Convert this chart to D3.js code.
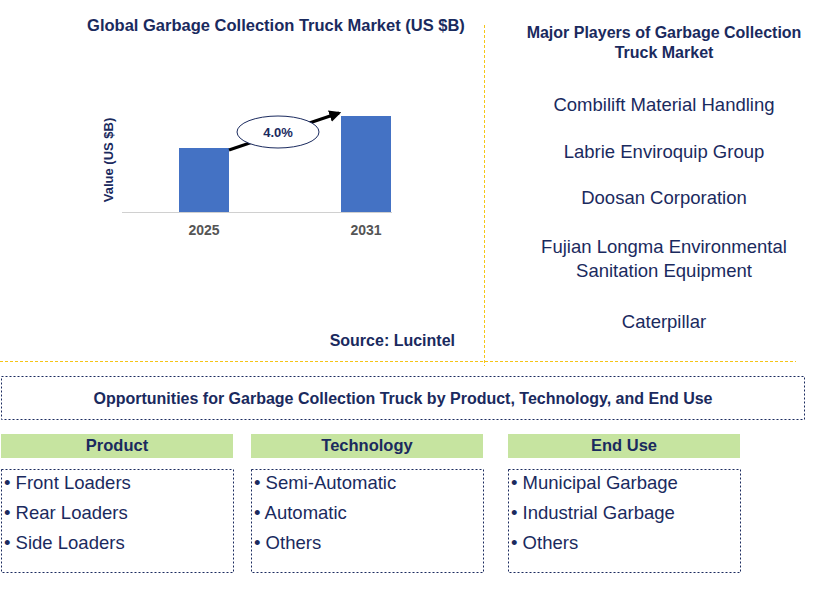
<!DOCTYPE html>
<html><head><meta charset="utf-8">
<script src="https://cdn.jsdelivr.net/npm/d3@7"></script>
<style>body{margin:0;background:#fff}svg{display:block;font-family:Arial,"Liberation Sans",sans-serif}</style>
</head><body><svg id="c" width="819" height="593"></svg>
<script>
const years = ["2025", "2031"];
const values = [6.4, 9.6];
const cagrLabel = "4.0%";
const players = [["Combilift Material Handling"],["Labrie Enviroquip Group"],["Doosan Corporation"],["Fujian Longma Environmental","Sanitation Equipment"],["Caterpillar"]];
const playerY = [105,152,198,247,322];
const segTitles = ["Product","Technology","End Use"];
const segItems = [["Front Loaders","Rear Loaders","Side Loaders"],["Semi-Automatic","Automatic","Others"],["Municipal Garbage","Industrial Garbage","Others"]];

const svg = d3.select("#c");
const navy = "#1a2a5e";
svg.append("text").attr("x",276).attr("y",31).attr("text-anchor","middle").attr("font-size",16.5).attr("font-weight","bold").attr("fill",navy).text("Global Garbage Collection Truck Market (US $B)");

const y = d3.scaleLinear().domain([0,10]).range([212,112]);
const xb = d3.scaleOrdinal().domain(years).range([179,341]);
const bw = 50;
svg.selectAll("rect.bar").data(years).join("rect").attr("class","bar")
  .attr("x",d=>xb(d)).attr("width",bw).attr("y",(d,i)=>y(values[i])).attr("height",(d,i)=>y(0)-y(values[i])).attr("fill","#4472c4");
svg.append("line").attr("x1",122).attr("x2",392).attr("y1",212.5).attr("y2",212.5).attr("stroke","#d0d0d0");
svg.selectAll("text.yr").data(years).join("text").attr("class","yr").attr("x",d=>xb(d)+bw/2).attr("y",235).attr("text-anchor","middle").attr("font-size",14).attr("font-weight","bold").attr("fill","#555").text(d=>d);
svg.append("text").attr("transform","translate(113,160) rotate(-90)").attr("text-anchor","middle").attr("font-size",13).attr("font-weight","bold").attr("fill",navy).text("Value (US $B)");
const defs = svg.append("defs");
defs.append("marker").attr("id","ah").attr("viewBox","0 0 10 10").attr("refX",8).attr("refY",5).attr("markerWidth",4).attr("markerHeight",4).attr("orient","auto").append("path").attr("d","M0,0L10,5L0,10z").attr("fill","#000");
svg.append("line").attr("x1",xb("2025")+bw).attr("y1",y(values[0])+2).attr("x2",xb("2031")-2).attr("y2",y(values[1])-3).attr("stroke","#000").attr("stroke-width",3).attr("marker-end","url(#ah)");
svg.append("ellipse").attr("cx",278).attr("cy",132).attr("rx",41).attr("ry",16).attr("fill","#fff").attr("stroke",navy).attr("stroke-width",1);
svg.append("text").attr("x",278).attr("y",137).attr("text-anchor","middle").attr("font-size",13).attr("font-weight","bold").attr("fill",navy).text(cagrLabel);
svg.append("text").attr("x",455).attr("y",346).attr("text-anchor","end").attr("font-size",16).attr("font-weight","bold").attr("fill",navy).text("Source: Lucintel");

svg.append("line").attr("x1",484.5).attr("x2",484.5).attr("y1",25).attr("y2",366).attr("stroke","#f5c518").attr("stroke-dasharray","3,2");
svg.append("line").attr("x1",0).attr("x2",796).attr("y1",361.5).attr("y2",361.5).attr("stroke","#f5c518").attr("stroke-dasharray","3,2");

svg.append("text").attr("x",664).attr("y",38).attr("text-anchor","middle").attr("font-size",16).attr("font-weight","bold").attr("fill",navy).text("Major Players of Garbage Collection");
svg.append("text").attr("x",664).attr("y",58).attr("text-anchor","middle").attr("font-size",16).attr("font-weight","bold").attr("fill",navy).text("Truck Market");
players.forEach((p,i)=>p.forEach((l,j)=>svg.append("text").attr("x",664).attr("y",playerY[i]+6+j*24).attr("text-anchor","middle").attr("font-size",18.5).attr("fill",navy).text(l)));

svg.append("rect").attr("x",1.5).attr("y",376.5).attr("width",803).attr("height",43).attr("fill","none").attr("stroke",navy).attr("stroke-dasharray","2,2");
svg.append("text").attr("x",403).attr("y",404).attr("text-anchor","middle").attr("font-size",16).attr("font-weight","bold").attr("fill",navy).text("Opportunities for Garbage Collection Truck by Product, Technology, and End Use");
const sx = [1,251,508], sw = 232;
segTitles.forEach((t,i)=>{
  svg.append("rect").attr("x",sx[i]).attr("y",434).attr("width",sw).attr("height",24).attr("fill","#c6e4a0");
  svg.append("text").attr("x",sx[i]+sw/2).attr("y",451).attr("text-anchor","middle").attr("font-size",16.5).attr("font-weight","bold").attr("fill",navy).text(t);
  svg.append("rect").attr("x",sx[i]+0.5).attr("y",469.5).attr("width",sw).attr("height",103).attr("fill","none").attr("stroke",navy).attr("stroke-dasharray","2,2");
  segItems[i].forEach((s,j)=>svg.append("text").attr("x",sx[i]+3).attr("y",489+j*30).attr("font-size",18.5).attr("fill",navy).text("• "+s));
});
</script></body></html>
